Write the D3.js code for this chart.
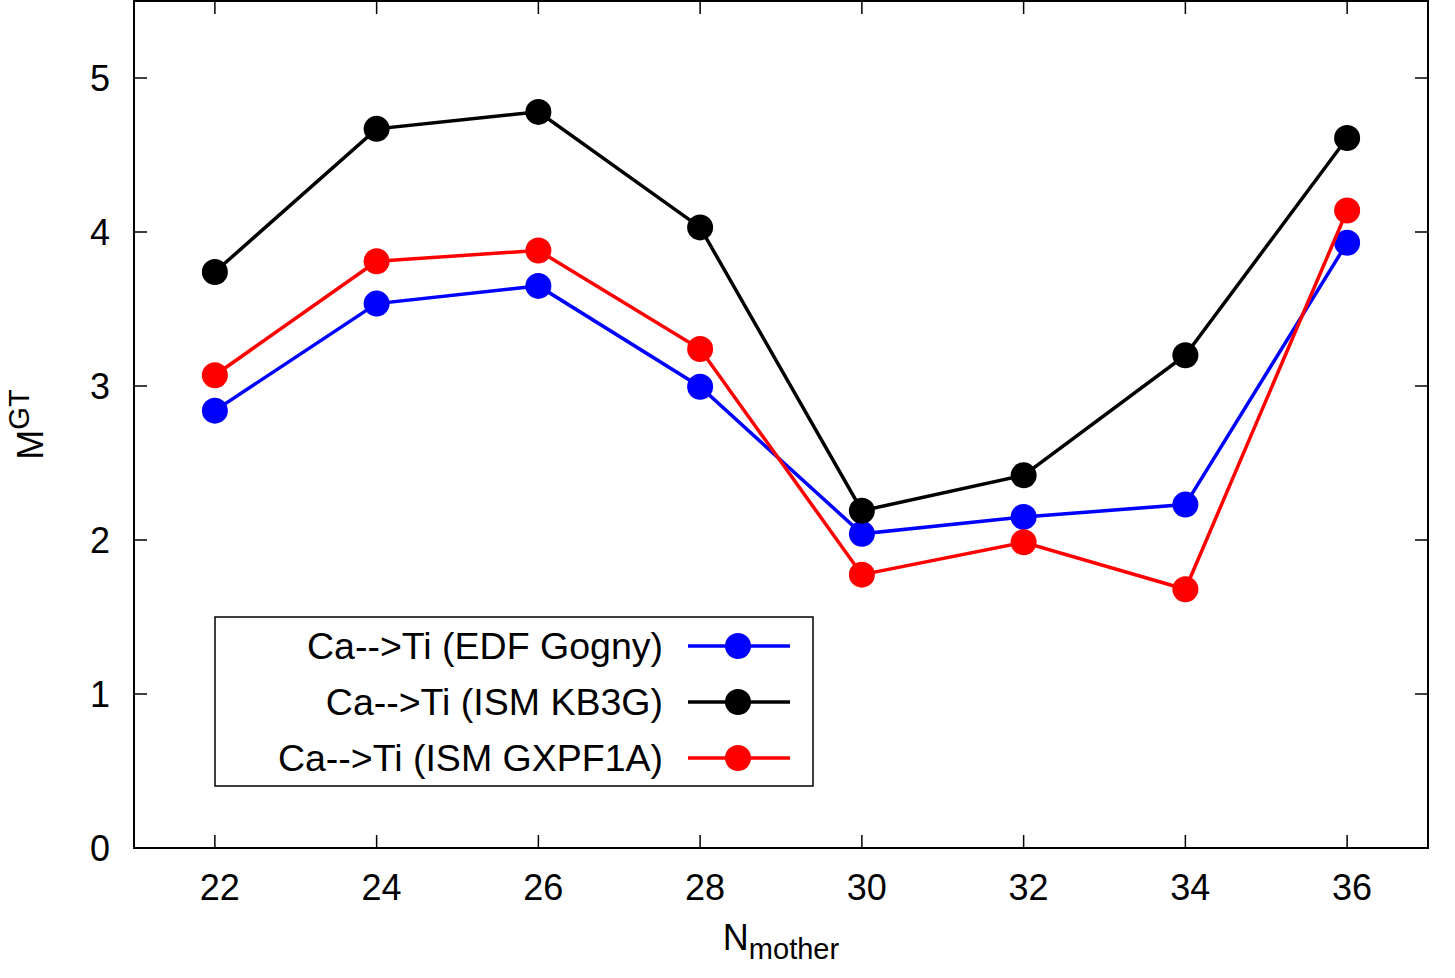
<!DOCTYPE html>
<html>
<head>
<meta charset="utf-8">
<script src="https://cdn.jsdelivr.net/npm/d3@7"></script>
<style>
  body { margin: 0; background: #fff; }
  svg { display: block; font-family: "Liberation Sans", Arial, sans-serif; }
</style>
</head>
<body>
<div id="chart"></div>
<script>
// values
var nMother = [22, 24, 26, 28, 30, 32, 34, 36];
var edfGogny = [2.84, 3.535, 3.65, 2.995, 2.04, 2.15, 2.23, 3.93];
var ismKB3G = [3.74, 4.67, 4.78, 4.03, 2.19, 2.42, 3.20, 4.61];
var ismGXPF1A = [3.07, 3.81, 3.88, 3.24, 1.775, 1.985, 1.68, 4.14];
var xTicks = [22, 24, 26, 28, 30, 32, 34, 36];
var yTicks = [0, 1, 2, 3, 4, 5];

var series = [
  { name: "Ca-->Ti (EDF Gogny)", values: edfGogny, color: "#0000ff" },
  { name: "Ca-->Ti (ISM KB3G)", values: ismKB3G, color: "#000000" },
  { name: "Ca-->Ti (ISM GXPF1A)", values: ismGXPF1A, color: "#ff0000" }
];

var W = 1455, H = 978;
var margin = { top: 1, right: 27, bottom: 130, left: 134 };
var width = W - margin.left - margin.right,
    height = H - margin.top - margin.bottom;

var svg = d3.select("#chart").append("svg")
  .attr("width", W).attr("height", H);

var x = d3.scaleLinear().domain([21, 37]).range([0, width]);
var y = d3.scaleLinear().domain([0, 5.5]).range([height, 0]);

var g = svg.append("g")
  .attr("transform", "translate(" + margin.left + "," + margin.top + ")");

var tickLen = 13;
var fs = 36;

// ticks on all four sides, pointing inward
g.selectAll(".xt").data(xTicks).enter().append("line")
  .attr("x1", function(d) { return x(d); }).attr("x2", function(d) { return x(d); })
  .attr("y1", height).attr("y2", height - tickLen)
  .attr("stroke", "#000").attr("stroke-width", 1.5);
g.selectAll(".xt2").data(xTicks).enter().append("line")
  .attr("x1", function(d) { return x(d); }).attr("x2", function(d) { return x(d); })
  .attr("y1", 0).attr("y2", tickLen)
  .attr("stroke", "#000").attr("stroke-width", 1.5);
g.selectAll(".yt").data(yTicks).enter().append("line")
  .attr("x1", 0).attr("x2", tickLen)
  .attr("y1", function(d) { return y(d); }).attr("y2", function(d) { return y(d); })
  .attr("stroke", "#000").attr("stroke-width", 1.5);
g.selectAll(".yt2").data(yTicks).enter().append("line")
  .attr("x1", width).attr("x2", width - tickLen)
  .attr("y1", function(d) { return y(d); }).attr("y2", function(d) { return y(d); })
  .attr("stroke", "#000").attr("stroke-width", 1.5);

g.selectAll(".xl").data(xTicks).enter().append("text")
  .attr("x", function(d) { return x(d) + 5; })
  .attr("y", height + 52)
  .attr("text-anchor", "middle")
  .attr("font-size", fs)
  .text(function(d) { return d; });
g.selectAll(".yl").data(yTicks).enter().append("text")
  .attr("x", -24)
  .attr("y", function(d) { return y(d) + 13; })
  .attr("text-anchor", "end")
  .attr("font-size", fs)
  .text(function(d) { return d; });

// axis titles
var xt = g.append("text")
  .attr("x", width / 2).attr("y", height + 102)
  .attr("text-anchor", "middle").attr("font-size", fs);
xt.append("tspan").text("N");
xt.append("tspan").attr("font-size", 29).attr("dy", 9).text("mother");

var yt = svg.append("text")
  .attr("transform", "translate(43," + (margin.top + height / 2) + ") rotate(-90)")
  .attr("text-anchor", "middle").attr("font-size", fs);
yt.append("tspan").text("M");
yt.append("tspan").attr("font-size", 29).attr("dy", -14).text("GT");

// series
var line = d3.line()
  .x(function(d, i) { return x(nMother[i]); })
  .y(function(d) { return y(d); });

series.forEach(function(s) {
  g.append("path")
    .attr("d", line(s.values))
    .attr("fill", "none")
    .attr("stroke", s.color)
    .attr("stroke-width", 3.5);
  g.selectAll(null).data(s.values).enter().append("circle")
    .attr("cx", function(d, i) { return x(nMother[i]); })
    .attr("cy", function(d) { return y(d); })
    .attr("r", 13)
    .attr("fill", s.color);
});

// frame
g.append("rect")
  .attr("width", width).attr("height", height)
  .attr("fill", "none").attr("stroke", "#000").attr("stroke-width", 2);

// legend
var lg = svg.append("g").attr("transform", "translate(215,617)");
lg.append("rect")
  .attr("width", 598).attr("height", 169)
  .attr("fill", "#fff").attr("stroke", "#000").attr("stroke-width", 1.5);
series.forEach(function(s, i) {
  var ly = 29 + i * 56;
  lg.append("text")
    .attr("x", 448).attr("y", ly + 13)
    .attr("text-anchor", "end").attr("font-size", 37.5)
    .text(s.name);
  lg.append("line")
    .attr("x1", 473).attr("x2", 575)
    .attr("y1", ly).attr("y2", ly)
    .attr("stroke", s.color).attr("stroke-width", 3.5);
  lg.append("circle")
    .attr("cx", 523).attr("cy", ly).attr("r", 13)
    .attr("fill", s.color);
});
</script>
</body>
</html>
